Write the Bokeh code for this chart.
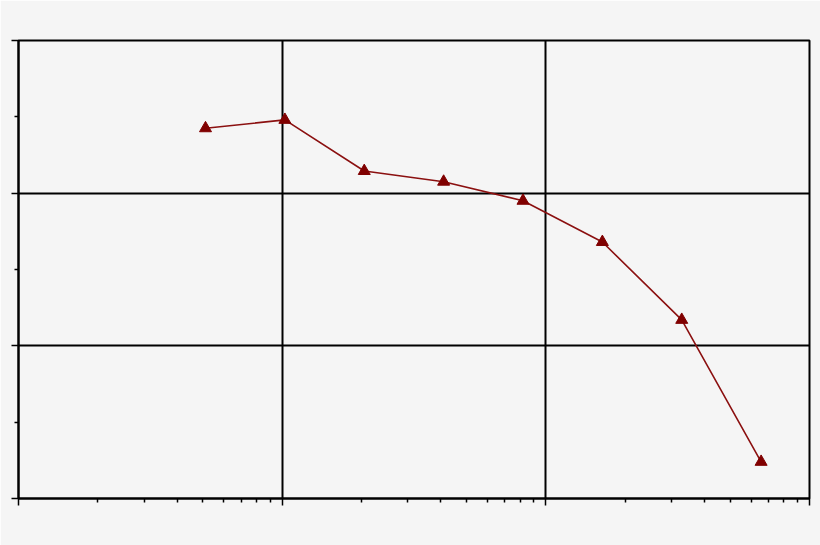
import re
from bokeh.plotting import figure
from bokeh.models import FixedTicker
from bokeh.embed import file_html
from bokeh.resources import INLINE

x_values = [512, 1024, 2048, 4096, 8192, 16384, 32768, 65536]
y_values = [24.25, 24.8, 21.45, 20.75, 19.5, 16.8, 11.7, 2.4]

x_major = [100, 1000, 10000, 100000]
x_minor = [m * d for d in (100, 1000, 10000) for m in range(2, 10)]
y_major = [0, 10, 20, 30]
y_minor = [5, 15, 25]

BG = "#f5f5f5"

p = figure(width=820, height=545, x_axis_type="log",
           x_range=(100, 100000), y_range=(0, 30),
           output_backend="svg", toolbar_location=None,
           background_fill_color=BG, border_fill_color=BG,
           min_border_left=18, min_border_right=11,
           min_border_top=40, min_border_bottom=47)

p.outline_line_color = "black"
p.outline_line_width = 2

p.xaxis.ticker = FixedTicker(ticks=x_major, minor_ticks=x_minor)
p.yaxis.ticker = FixedTicker(ticks=y_major, minor_ticks=y_minor)

for ax in (p.xaxis, p.yaxis):
    ax.axis_line_color = "black"
    ax.axis_line_width = 2
    ax.major_tick_line_color = "black"
    ax.major_tick_line_width = 1.5
    ax.minor_tick_line_color = "black"
    ax.minor_tick_line_width = 1.5
    ax.major_tick_out = 7
    ax.major_tick_in = 0
    ax.minor_tick_out = 4
    ax.minor_tick_in = 0
    ax.major_label_text_font_size = "2px"
    ax.major_label_text_color = None
    ax.major_label_standoff = 0

p.xgrid.grid_line_color = "black"
p.ygrid.grid_line_color = "black"
p.xgrid.grid_line_width = 2
p.ygrid.grid_line_width = 2

p.line(x_values, y_values, line_color="#8b1010", line_width=1.6)
p.scatter(x_values, y_values, marker="triangle", size=12,
          fill_color="#800000", line_color="#800000")

html = file_html(p, INLINE)
html = re.sub(r"<body([^>]*)>", r'<body\1 style="background-color:%s;">' % BG, html, count=1)
open("out.html", "w").write(html)
